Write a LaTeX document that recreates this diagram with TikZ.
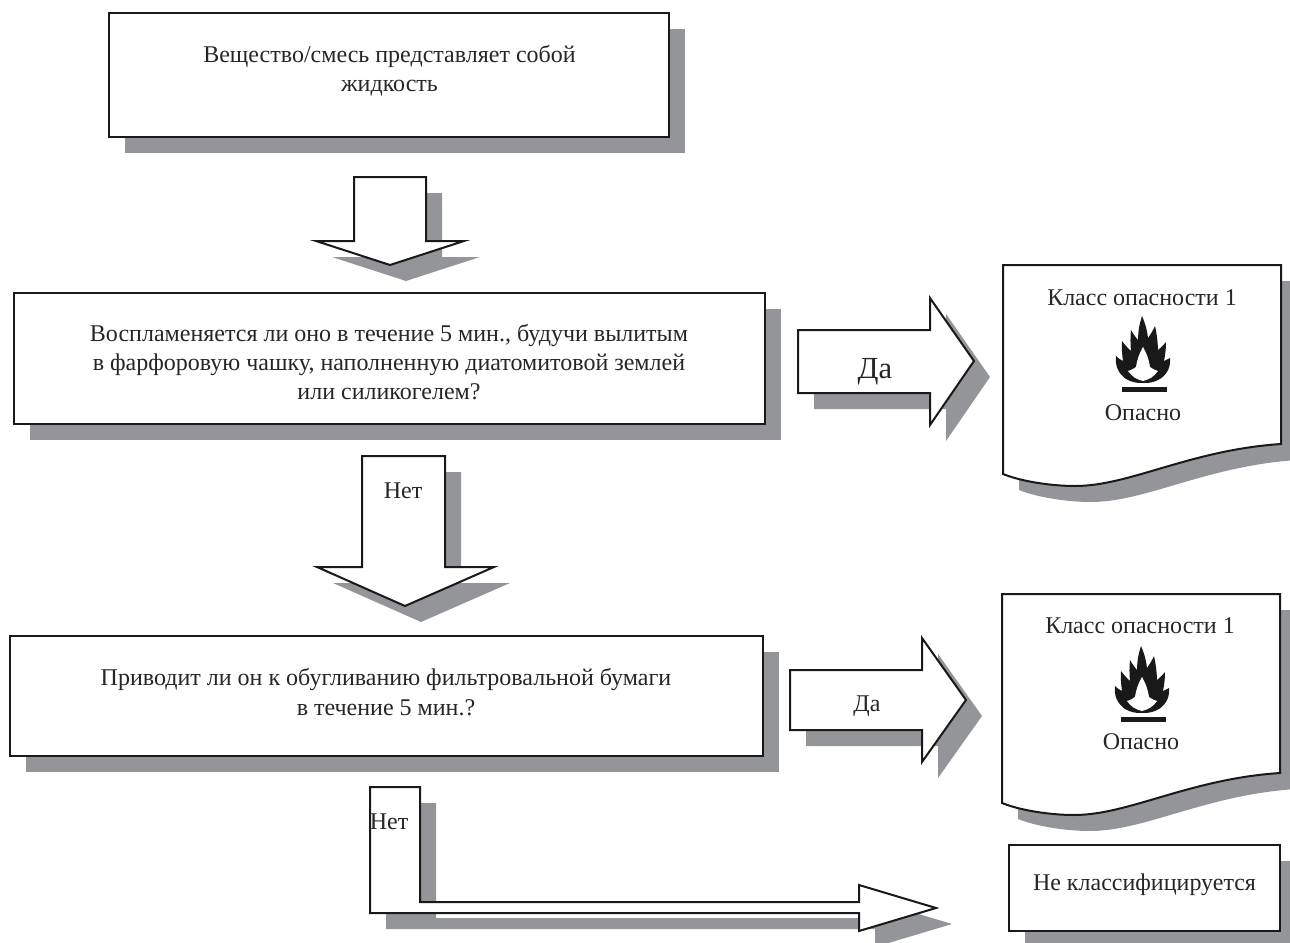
\documentclass[tikz,border=0pt]{standalone}
\usepackage{fontspec}
\setmainfont{Liberation Serif}
\usetikzlibrary{shadows}
\definecolor{shadowGray}{HTML}{939598}
\tikzset{
	flowBox/.style={rectangle, draw=black!90, line width=1.5pt, fill=white, drop shadow={shadow xshift=12pt, shadow yshift=-12pt, fill=shadowGray, opacity=1}},
	blockLine/.style={draw=black!90, line width=1.5pt, fill=white, line join=miter},
	blockShadow/.style={fill=shadowGray},
	flowLabel/.style={font=\fontsize{18}{22}\selectfont, align=center, text=black!85, inner sep=0pt}
}
% shape with its grey copy below it
\newcommand{\withShadow}[1]{
	\fill[blockShadow, shift={(16,16)}] #1;
	\draw[blockLine] #1;
}
% sheet with a wavy lower edge
\newcommand{\docPath}[2]{(#1,#2) -- (#1+278,#2) -- (#1+278,#2+179) .. controls (#1+187,#2+185) and (#1+127,#2+221) .. (#1+72,#2+221) .. controls (#1+47,#2+221) and (#1+17,#2+216) .. (#1,#2+209) -- cycle}
% flame sign, #1 is the middle of the base
\newcommand{\flameSign}[1]{
	\begin{scope}[shift={#1}]
	\fill[black!90] (0,0) to[bend left=15] (-17,-4) to[bend left=30] (-27,-27) to[bend right=10] (-20,-22) to[bend left=5] (-21,-42) to[bend right=5] (-12,-32) to[bend left=5] (-12,-53) to[bend right=5] (-5,-43) to[bend left=8] (-1,-67) to[bend left=8] (5,-45) to[bend right=5] (12,-57) to[bend left=5] (15,-33) to[bend right=5] (23,-41) to[bend left=5] (21,-22) to[bend right=10] (27,-25) to[bend left=30] (17,-4) to[bend left=15] cycle;
	\fill[white] (0,-2) to[bend left=20] (-15,-12) to[bend right=10] (-7,-16) to[bend left=10] (0,-36) to[bend left=10] (7,-16) to[bend right=10] (15,-12) to[bend left=20] cycle;
	\fill[black!90] (-21,4) rectangle (24,9);
	\end{scope}
}
\begin{document}
\begin{tikzpicture}[x=0.75pt, y=-0.75pt]
\useasboundingbox (0,0) rectangle (1290,943);

\node[flowBox, minimum width=420pt, minimum height=93pt](liquidBox) at (389,75){};
\node[flowLabel](liquidLabel) at (389.5,71){Вещество/смесь представляет собой\\жидкость};

\withShadow{(354,177) -- (426,177) -- (426,241) -- (464,241) -- (390,265) -- (316,241) -- (354,241) -- cycle}

\node[flowBox, minimum width=563pt, minimum height=98pt](igniteBox) at (389.5,358.5){};
\node[flowLabel](igniteLabel) at (389,362){Воспламеняется ли оно в течение 5 мин., будучи вылитым\\в фарфоровую чашку, наполненную диатомитовой землей\\или силикогелем?};

\withShadow{(798,330) -- (930,330) -- (930,298) -- (974,361) -- (930,425) -- (930,393) -- (798,393) -- cycle}
\node[flowLabel, font=\fontsize{23}{24}\selectfont](yesOneLabel) at (875,372){Да};

\withShadow{\docPath{1003}{265}}
\node[flowLabel](classOneLabel) at (1142,298){Класс опасности 1};
\flameSign{(1143,383)}
\node[flowLabel](dangerOneLabel) at (1143,413){Опасно};

\withShadow{(362,456) -- (445,456) -- (445,567) -- (494,567) -- (405,606) -- (317,567) -- (362,567) -- cycle}
\node[flowLabel](noOneLabel) at (403,491){Нет};

\node[flowBox, minimum width=565pt, minimum height=90pt](charBox) at (386.5,696){};
\node[flowLabel](charLabel) at (386,692){Приводит ли он к обугливанию фильтровальной бумаги\\в течение 5 мин.?};

\withShadow{(790,670) -- (922,670) -- (922,638) -- (966,700) -- (922,762) -- (922,730) -- (790,730) -- cycle}
\node[flowLabel](yesTwoLabel) at (867,706){Да};

\withShadow{\docPath{1002}{594}}
\node[flowLabel](classTwoLabel) at (1140,626){Класс опасности 1};
\flameSign{(1142,713)}
\node[flowLabel](dangerTwoLabel) at (1141,742){Опасно};

\withShadow{(370,787) -- (420,787) -- (420,902) -- (859,902) -- (859,885) -- (936,908) -- (859,931) -- (859,913) -- (370,913) -- cycle}
\node[flowLabel](noTwoLabel) at (389,822){Нет};

\node[flowBox, minimum width=203pt, minimum height=65pt](noClassBox) at (1144.5,888){};
\node[flowLabel](noClassLabel) at (1144.5,885){Не классифицируется};
\end{tikzpicture}
\end{document}
